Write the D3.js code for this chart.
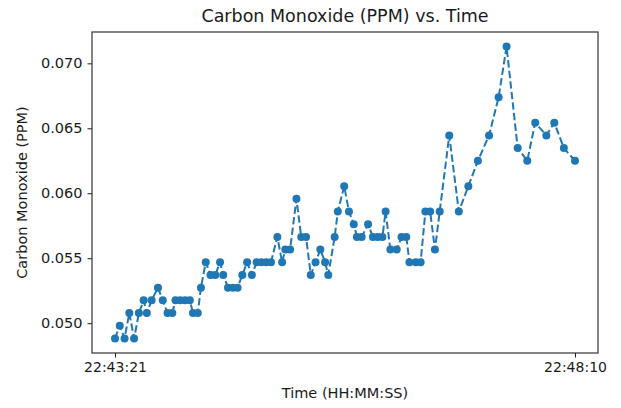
<!DOCTYPE html>
<html>
<head>
<meta charset="utf-8">
<script src="https://cdn.jsdelivr.net/npm/d3@7"></script>
<style>
  html, body { margin: 0; padding: 0; background: #fff; }
  svg { display: block; font-family: "DejaVu Sans", sans-serif; }
</style>
</head>
<body>
<svg id="chart" width="621" height="408"></svg>
<script>
const times = [
  "22:43:21","22:43:24","22:43:27","22:43:30","22:43:33","22:43:36","22:43:39","22:43:41",
  "22:43:44","22:43:48","22:43:51","22:43:54","22:43:57","22:43:59","22:44:02","22:44:05",
  "22:44:08","22:44:10","22:44:13","22:44:15","22:44:18","22:44:21","22:44:24","22:44:27",
  "22:44:29","22:44:32","22:44:35","22:44:38","22:44:41","22:44:44","22:44:47","22:44:50",
  "22:44:53","22:44:56","22:44:59","22:45:03","22:45:06","22:45:08","22:45:11","22:45:15",
  "22:45:18","22:45:21","22:45:24","22:45:27","22:45:30","22:45:33","22:45:35","22:45:39",
  "22:45:41","22:45:45","22:45:48","22:45:51","22:45:53","22:45:56","22:46:00","22:46:03",
  "22:46:06","22:46:09","22:46:11","22:46:14","22:46:18","22:46:21","22:46:24","22:46:26",
  "22:46:30","22:46:33","22:46:36","22:46:39","22:46:42","22:46:45","22:46:51","22:46:57",
  "22:47:03","22:47:09","22:47:16","22:47:22","22:47:27","22:47:34","22:47:40","22:47:45",
  "22:47:52","22:47:57","22:48:03","22:48:10"
];
const coPPM = [
  0.048828,0.049805,0.048828,0.050781,0.048828,0.050781,0.051758,0.050781,
  0.051758,0.052734,0.051758,0.050781,0.050781,0.051758,0.051758,0.051758,
  0.051758,0.050781,0.050781,0.052734,0.054688,0.053711,0.053711,0.054688,
  0.053711,0.052734,0.052734,0.052734,0.053711,0.054688,0.053711,0.054688,
  0.054688,0.054688,0.054688,0.056641,0.054688,0.055664,0.055664,0.059570,
  0.056641,0.056641,0.053711,0.054688,0.055664,0.054688,0.053711,0.056641,
  0.058594,0.060547,0.058594,0.057617,0.056641,0.056641,0.057617,0.056641,
  0.056641,0.056641,0.058594,0.055664,0.055664,0.056641,0.056641,0.054688,
  0.054688,0.054688,0.058594,0.058594,0.055664,0.058594,0.064453,0.058594,
  0.060547,0.062500,0.064453,0.067383,0.071289,0.063477,0.062500,0.065430,
  0.064453,0.065430,0.063477,0.062500
];
const yTicks = [0.050, 0.055, 0.060, 0.065, 0.070];
const xTickLabels = ["22:43:21", "22:48:10"];
const title = "Carbon Monoxide (PPM) vs. Time";
const xLabel = "Time (HH:MM:SS)";
const yLabel = "Carbon Monoxide (PPM)";

const parse = d3.timeParse("%H:%M:%S");
const data = times.map((t, i) => ({ t: parse(t), v: coPPM[i] }));

const L = 92, R = 598, T = 32, B = 353;
const svg = d3.select("#chart");
const color = "#1f77b4";
const ink = "#1a1a1a";

const tExt = d3.extent(data, d => d.t);
const tPad = (tExt[1] - tExt[0]) * 0.05;
const x = d3.scaleTime()
  .domain([new Date(+tExt[0] - tPad), new Date(+tExt[1] + tPad)])
  .range([L, R]);

const vExt = d3.extent(data, d => d.v);
const vPad = (vExt[1] - vExt[0]) * 0.05;
const y = d3.scaleLinear()
  .domain([vExt[0] - vPad, vExt[1] + vPad])
  .range([B, T]);

// axes
const xAxis = d3.axisBottom(x)
  .tickValues(xTickLabels.map(parse))
  .tickFormat(d3.timeFormat("%H:%M:%S"))
  .tickSizeOuter(0).tickSize(4.5).tickPadding(5);
const gx = svg.append("g").attr("transform", `translate(0,${B})`).call(xAxis);
gx.select(".domain").remove();
gx.selectAll("line").attr("stroke", ink).attr("stroke-width", 1);
gx.selectAll("text").attr("font-size", 14).attr("fill", ink)
  .attr("font-family", "DejaVu Sans, sans-serif");

const yAxis = d3.axisLeft(y)
  .tickValues(yTicks)
  .tickFormat(d3.format(".3f"))
  .tickSizeOuter(0).tickSize(4.5).tickPadding(5);
const gy = svg.append("g").attr("transform", `translate(${L},0)`).call(yAxis);
gy.select(".domain").remove();
gy.selectAll("line").attr("stroke", ink).attr("stroke-width", 1);
gy.selectAll("text").attr("font-size", 14.5).attr("fill", ink)
  .attr("font-family", "DejaVu Sans, sans-serif");

// line
const line = d3.line().x(d => x(d.t)).y(d => y(d.v));
svg.append("path")
  .datum(data)
  .attr("d", line)
  .attr("fill", "none")
  .attr("stroke", color)
  .attr("stroke-width", 2)
  .attr("stroke-dasharray", "7.4,3.2");

svg.append("g").selectAll("circle")
  .data(data)
  .join("circle")
  .attr("cx", d => x(d.t))
  .attr("cy", d => y(d.v))
  .attr("r", 4)
  .attr("fill", color);

// frame
svg.append("rect")
  .attr("x", L).attr("y", T)
  .attr("width", R - L).attr("height", B - T)
  .attr("fill", "none").attr("stroke", "#333").attr("stroke-width", 1.2);

// labels
svg.append("text")
  .attr("x", (L + R) / 2).attr("y", 22)
  .attr("text-anchor", "middle")
  .attr("font-size", 17.5).attr("fill", ink)
  .text(title);

svg.append("text")
  .attr("x", (L + R) / 2).attr("y", 398)
  .attr("text-anchor", "middle")
  .attr("font-size", 14.5).attr("fill", ink)
  .text(xLabel);

svg.append("text")
  .attr("transform", `translate(27,${(T + B) / 2}) rotate(-90)`)
  .attr("text-anchor", "middle")
  .attr("font-size", 14.5).attr("fill", ink)
  .text(yLabel);
</script>
</body>
</html>
